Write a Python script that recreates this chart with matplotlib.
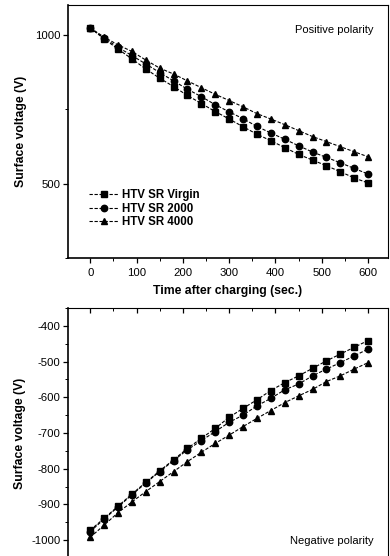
import matplotlib
matplotlib.use("Agg")
import matplotlib.pyplot as plt
from matplotlib.ticker import MultipleLocator

plt.rcParams['font.family'] = ['Liberation Sans', 'DejaVu Sans']
plt.rcParams['axes.unicode_minus'] = False

time_s = [0, 30, 60, 90, 120, 150, 180, 210, 240, 270, 300, 330, 360, 390, 420, 450, 480, 510, 540, 570, 600]

pos_virgin = [1023, 986, 952, 919, 885, 854, 826, 796, 769, 742, 717, 691, 666, 644, 621, 598, 579, 560, 540, 519, 502]
pos_2000 = [1023, 989, 958, 930, 902, 873, 845, 817, 792, 765, 741, 718, 692, 670, 649, 627, 606, 588, 570, 551, 532]
pos_4000 = [1023, 992, 966, 944, 915, 888, 868, 845, 822, 800, 779, 758, 735, 717, 698, 678, 658, 641, 624, 607, 590]

neg_virgin = [-972, -939, -905, -871, -838, -806, -775, -743, -715, -687, -656, -631, -607, -581, -559, -540, -519, -498, -479, -460, -441]
neg_2000 = [-976, -941, -907, -873, -840, -808, -777, -747, -721, -696, -670, -650, -624, -603, -579, -563, -540, -521, -503, -484, -465]
neg_4000 = [-992, -958, -923, -893, -864, -836, -808, -780, -754, -729, -706, -682, -659, -637, -615, -596, -578, -556, -540, -521, -503]

series_labels = ['HTV SR Virgin', 'HTV SR 2000', 'HTV SR 4000']
markers = ['s', 'o', '^']
msizes = [4.0, 4.6, 4.8]

W, H = 390, 556
fig = plt.figure(figsize=(W / 100, H / 100), dpi=100)


def frac(x0, y_top, x1, y_bot):
    return [x0 / W, 1 - y_bot / H, (x1 - x0) / W, (y_bot - y_top) / H]


ax1 = fig.add_axes(frac(68, 5, 388, 258))
ax2 = fig.add_axes(frac(68, 308, 388, 558))

for ys, lab, mk, ms in zip([pos_virgin, pos_2000, pos_4000], series_labels, markers, msizes):
    ax1.plot(time_s, ys, linestyle=(0, (3, 1.5)), color='black', linewidth=0.8,
             marker=mk, markersize=ms, markerfacecolor='black', markeredgecolor='black', label=lab)

for ys, lab, mk, ms in zip([neg_virgin, neg_2000, neg_4000], series_labels, markers, msizes):
    ax2.plot(time_s, ys, linestyle=(0, (3, 1.5)), color='black', linewidth=0.8,
             marker=mk, markersize=ms, markerfacecolor='black', markeredgecolor='black', label=lab)

fs_tick = 8.2
fs_label = 8.8

# top panel
ax1.set_xlim(-48, 643)
ax1.set_ylim(250, 1100)
ax1.xaxis.set_major_locator(MultipleLocator(100))
ax1.xaxis.set_minor_locator(MultipleLocator(50))
ax1.yaxis.set_major_locator(MultipleLocator(500))
ax1.yaxis.set_minor_locator(MultipleLocator(250))
ax1.tick_params(axis='both', which='major', direction='out', length=3.5, width=0.9, labelsize=fs_tick, pad=2)
ax1.tick_params(axis='both', which='minor', direction='out', length=2, width=0.7)
ax1.tick_params(axis='x', pad=4)
ax1.set_xlabel('Time after charging (sec.)', fontsize=fs_label, fontweight='bold', labelpad=5)
ax1.set_ylabel('Surface voltage (V)', fontsize=fs_label, fontweight='bold', labelpad=6)
ax1.text(0.955, 0.9, 'Positive polarity', transform=ax1.transAxes, ha='right', va='center', fontsize=8)
leg = ax1.legend(loc='lower left', bbox_to_anchor=(0.04, 0.085), frameon=False, fontsize=8.3,
                 handlelength=2.6, handletextpad=0.3, labelspacing=0.15, borderpad=0.2)
for t in leg.get_texts():
    t.set_fontweight('bold')

# bottom panel
ax2.set_xlim(-48, 643)
ax2.set_ylim(-1050, -350)
ax2.xaxis.set_major_locator(MultipleLocator(100))
ax2.xaxis.set_minor_locator(MultipleLocator(50))
ax2.yaxis.set_major_locator(MultipleLocator(100))
ax2.yaxis.set_minor_locator(MultipleLocator(50))
ax2.tick_params(axis='x', which='both', bottom=False, top=True, labelbottom=False, direction='in')
ax2.tick_params(axis='x', which='major', length=3.5, width=0.9)
ax2.tick_params(axis='x', which='minor', length=2, width=0.7)
ax2.tick_params(axis='y', which='major', direction='out', length=3.5, width=0.9, labelsize=fs_tick, pad=2)
ax2.tick_params(axis='y', which='minor', direction='out', length=2, width=0.7)
ax2.set_ylabel('Surface voltage (V)', fontsize=fs_label, fontweight='bold', labelpad=4)
ax2.text(0.955, 0.07, 'Negative polarity', transform=ax2.transAxes, ha='right', va='center', fontsize=8)

for ax in (ax1, ax2):
    for side in ('left', 'bottom'):
        ax.spines[side].set_linewidth(1.2)
    for side in ('top', 'right'):
        ax.spines[side].set_linewidth(0.8)

fig.savefig('out.png', dpi=100)
